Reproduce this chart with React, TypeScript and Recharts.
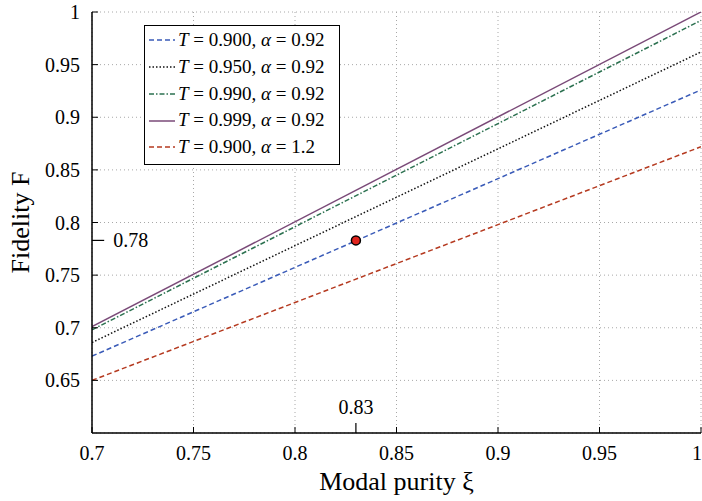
import { LineChart, Line, XAxis, YAxis, CartesianGrid, Legend, ReferenceLine, ReferenceDot } from 'recharts'

// modal purity on the x axis (lines are straight, so only the ends are needed)
const purity = [0.7, 1.0]
const fidT900 = [0.673, 0.926]
const fidT950 = [0.686, 0.962]
const fidT990 = [0.698, 0.992]
const fidT999 = [0.701, 1.0]
const fidT900a12 = [0.65, 0.872]

const xTicks = [0.7, 0.75, 0.8, 0.85, 0.9, 0.95, 1]
const yTicks = [0.65, 0.7, 0.75, 0.8, 0.85, 0.9, 0.95, 1]

const markXi = 0.83
const markF = 0.783
const markXiLabel = '0.83'
const markFLabel = '0.78'

const series = [
  { key: 'f1', t: '0.900', alpha: '0.92', values: fidT900, color: '#3a5bb8', dash: '5 3' },
  { key: 'f2', t: '0.950', alpha: '0.92', values: fidT950, color: '#111111', dash: '1.5 2' },
  { key: 'f3', t: '0.990', alpha: '0.92', values: fidT990, color: '#2c7150', dash: '5 2 1.5 2' },
  { key: 'f4', t: '0.999', alpha: '0.92', values: fidT999, color: '#7a4a78', dash: undefined },
  { key: 'f5', t: '0.900', alpha: '1.2', values: fidT900a12, color: '#b53a20', dash: '5 3' },
]

const chartData = purity.map((xi, i) => {
  const row: any = { xi }
  series.forEach(s => { row[s.key] = s.values[i] })
  return row
})

const font = 'Liberation Serif'
const tickStyle = { fontFamily: font, fontSize: 20, fill: '#000' }

const LegendBox = () => (
  <div style={{
    boxSizing: 'border-box', width: 196, height: 140, border: '1.5px solid #000', background: '#fff',
    padding: '1px 4px', fontFamily: font, fontSize: 19, lineHeight: '26.75px', color: '#000',
  }}>
    {series.map(s => (
      <div key={s.key} style={{ display: 'flex', alignItems: 'center', whiteSpace: 'nowrap' }}>
        <svg width={26} height={10} style={{ marginRight: 3 }}>
          <line x1={0} y1={5} x2={26} y2={5} stroke={s.color} strokeWidth={1.5} strokeDasharray={s.dash} />
        </svg>
        <span><i>T</i> = {s.t}, <i>α</i> = {s.alpha}</span>
      </div>
    ))}
  </div>
)

export default function App() {
  return (
    <div style={{ position: 'absolute', left: 0, top: 0, background: '#fff', fontFamily: font }}>
      <LineChart width={702} height={501} data={chartData} margin={{ top: 12, right: 1, left: 0, bottom: 0 }} style={{ fontFamily: font }}>
        <CartesianGrid stroke="#a8a8a8" strokeDasharray="1 3" />
        <XAxis
          dataKey="xi" type="number" domain={[0.7, 1]} ticks={xTicks} allowDataOverflow
          height={68} tickSize={-6} tickMargin={19} tick={tickStyle}
          axisLine={{ stroke: '#000', strokeWidth: 1.5 }} tickLine={{ stroke: '#000' }}
          label={{ value: 'Modal purity ξ', position: 'insideBottom', offset: 11, fontSize: 26, fill: '#000', fontFamily: font }}
        />
        <XAxis
          xAxisId="top" orientation="top" dataKey="xi" type="number" domain={[0.7, 1]} ticks={xTicks} allowDataOverflow
          height={0} tickSize={-6} tick={false}
          axisLine={{ stroke: '#000', strokeWidth: 1.5 }} tickLine={{ stroke: '#000' }}
        />
        <YAxis
          type="number" domain={[0.6, 1]} ticks={yTicks} allowDataOverflow
          width={92} tickSize={-6} tickMargin={18} tick={tickStyle}
          axisLine={{ stroke: '#000', strokeWidth: 1.5 }} tickLine={{ stroke: '#000' }}
          label={{ value: 'Fidelity F', angle: -90, position: 'insideLeft', offset: 20, fontSize: 26, fill: '#000', fontFamily: font, style: { textAnchor: 'middle' } }}
        />
        <YAxis
          yAxisId="right" orientation="right" type="number" domain={[0.6, 1]} ticks={yTicks} allowDataOverflow
          width={0} tickSize={-6} tick={false}
          axisLine={{ stroke: '#000', strokeWidth: 1.5 }} tickLine={{ stroke: '#000' }}
        />
        <Legend
          layout="vertical" align="center" verticalAlign="middle"
          wrapperStyle={{ left: 144, top: 25, width: 196 }}
          content={() => <LegendBox />}
        />
        {series.map(s => (
          <Line
            key={s.key} dataKey={s.key} type="linear" stroke={s.color} strokeWidth={1.5}
            strokeDasharray={s.dash} dot={false} activeDot={false} isAnimationActive={false}
          />
        ))}
        <ReferenceLine
          segment={[{ x: 0.7, y: markF }, { x: 0.706, y: markF }]} stroke="#000" strokeWidth={1.2}
          label={{ value: markFLabel, position: 'right', offset: 9, fontSize: 20, fill: '#000', fontFamily: font }}
        />
        <ReferenceLine
          segment={[{ x: markXi, y: 0.6 }, { x: markXi, y: 0.6095 }]} stroke="#000" strokeWidth={1.2}
          label={{ value: markXiLabel, position: 'top', offset: 9, fontSize: 20, fill: '#000', fontFamily: font }}
        />
        <ReferenceDot x={markXi} y={markF} r={4.5} fill="#e0241e" stroke="#000" strokeWidth={1.5} />
      </LineChart>
    </div>
  )
}
